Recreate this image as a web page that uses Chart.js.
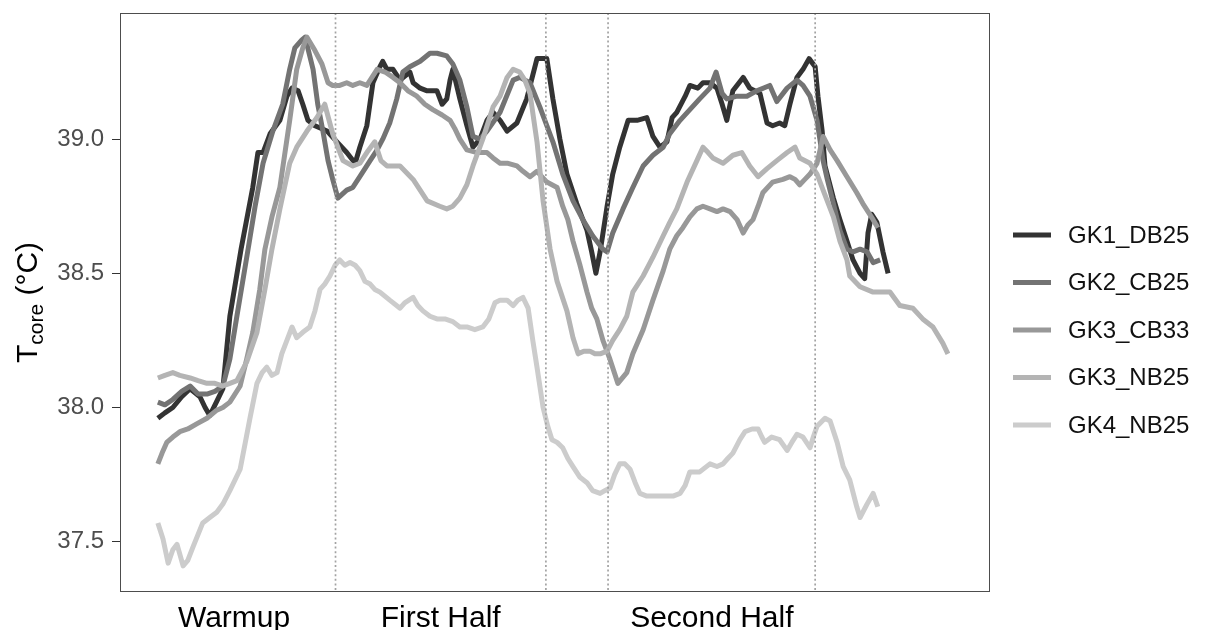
<!DOCTYPE html>
<html>
<head>
<meta charset="utf-8">
<title>Core temperature by match phase</title>
<script src="https://cdn.jsdelivr.net/npm/chart.js@4.4.1/dist/chart.umd.min.js"></script>
<style>
  html, body { margin: 0; padding: 0; background: #ffffff; }
  canvas { display: block; }
</style>
</head>
<body>
<canvas id="chart" width="1223" height="630"></canvas>
<script>
// Core temperature (°C) against match time (minutes from kick-off), one series per goalkeeper session.
const seriesNames = ['GK1_DB25', 'GK2_CB25', 'GK3_CB33', 'GK3_NB25', 'GK4_NB25'];
const seriesColors = ['#333333', '#737373', '#989898', '#b4b4b4', '#cccccc'];

// [minute, temperature]
const gk1_db25 = [
  [-38.0,37.96],[-36.5,37.98],[-34.8,38.00],[-32.9,38.04],[-31.1,38.07],[-29.0,38.04],[-27.9,38.00],[-26.9,37.97],
  [-25.2,38.03],[-24.1,38.07],[-22.6,38.34],[-20.2,38.59],[-17.7,38.82],[-16.6,38.95],[-15.5,38.95],[-14.0,39.02],
  [-11.9,39.07],[-10.4,39.16],[-9.3,39.19],[-8.0,39.18],[-7.0,39.13],[-5.9,39.07],[-4.4,39.05],[-1.8,39.03],
  [0.3,38.99],[2.4,38.95],[4.2,38.91],[5.2,38.97],[6.7,39.05],[8.0,39.21],[9.5,39.27],[10.1,39.29],
  [11.0,39.26],[12.3,39.26],[13.8,39.22],[15.9,39.25],[16.6,39.21],[18.1,39.19],[19.6,39.18],[21.7,39.18],
  [22.8,39.13],[23.8,39.15],[24.5,39.22],[25.1,39.26],[26.6,39.15],[28.1,39.05],[29.4,38.97],[30.9,39.00],
  [32.4,39.07],[33.7,39.10],[35.2,39.07],[36.7,39.03],[38.8,39.06],[40.9,39.15],[43.1,39.30],[45.2,39.30],
  [46.5,39.15],[48.0,39.00],[49.5,38.87],[51.6,38.76],[53.8,38.66],[54.8,38.58],[55.7,38.50],[56.6,38.58],
  [58.1,38.75],[59.3,38.87],[60.8,38.97],[62.6,39.07],[64.5,39.07],[66.6,39.08],[67.9,39.01],[69.4,38.97],
  [70.9,38.99],[72.0,39.08],[73.0,39.10],[74.8,39.16],[75.8,39.20],[77.5,39.19],[78.6,39.21],[80.1,39.21],
  [81.6,39.19],[82.7,39.13],[83.7,39.07],[85.0,39.18],[87.2,39.23],[88.6,39.19],[90.8,39.17],[92.3,39.06],
  [93.5,39.05],[95.0,39.06],[96.1,39.05],[97.2,39.13],[98.7,39.23],[100.0,39.26],[101.3,39.30],[102.6,39.27],
  [103.2,39.16],[104.1,39.03],[104.7,38.90],[106.5,38.78],[107.9,38.70],[109.4,38.62],[110.7,38.55],[112.2,38.50],
  [113.2,38.48],[113.9,38.65],[114.7,38.72],[115.8,38.69],[117.1,38.58],[118.2,38.50]
];

const gk2_cb25 = [
  [-38.0,38.02],[-36.5,38.01],[-34.8,38.03],[-32.9,38.06],[-31.1,38.08],[-29.4,38.05],[-27.5,38.05],[-25.8,38.06],
  [-24.1,38.08],[-22.6,38.18],[-21.1,38.34],[-18.7,38.59],[-17.2,38.75],[-15.5,38.91],[-13.4,39.03],[-11.3,39.13],
  [-9.8,39.26],[-8.7,39.34],[-7.2,39.37],[-6.5,39.38],[-4.8,39.26],[-3.8,39.13],[-2.7,39.03],[-1.6,38.92],
  [-0.6,38.85],[0.5,38.78],[2.4,38.81],[3.7,38.82],[5.2,38.86],[7.4,38.92],[8.9,38.96],[10.1,39.00],
  [11.6,39.06],[13.1,39.15],[14.4,39.25],[15.9,39.27],[18.1,39.29],[20.2,39.32],[21.7,39.32],[23.8,39.31],
  [25.1,39.28],[26.6,39.22],[28.1,39.12],[29.4,39.01],[30.9,39.00],[32.4,39.03],[35.2,39.10],[38.0,39.22],
  [39.4,39.23],[41.6,39.21],[43.7,39.12],[46.5,38.99],[48.6,38.87],[50.8,38.77],[52.9,38.70],[55.0,38.64],
  [57.2,38.59],[58.1,38.58],[59.3,38.65],[61.5,38.74],[63.6,38.82],[65.8,38.90],[67.9,38.94],[70.1,38.97],
  [71.5,39.02],[73.7,39.07],[75.8,39.11],[77.9,39.15],[80.1,39.19],[81.4,39.25],[82.7,39.17],[83.7,39.15],
  [85.9,39.16],[88.0,39.16],[90.1,39.18],[92.9,39.20],[94.4,39.14],[96.6,39.19],[98.7,39.22],[100.0,39.20],
  [101.5,39.16],[103.0,39.07],[104.3,38.92],[105.2,38.85],[106.5,38.76],[107.9,38.66],[109.4,38.59],[110.7,38.58],
  [112.2,38.59],[113.7,38.58],[115.0,38.54],[116.5,38.55]
];

const gk3_cb33 = [
  [-38.0,37.79],[-37.1,37.83],[-36.1,37.87],[-34.8,37.89],[-33.3,37.91],[-31.6,37.92],[-29.6,37.94],[-27.5,37.96],
  [-25.4,37.99],[-24.1,38.00],[-22.6,38.02],[-20.4,38.08],[-19.0,38.18],[-17.7,38.28],[-16.2,38.44],[-15.1,38.59],
  [-13.6,38.71],[-11.9,38.82],[-9.8,39.07],[-8.3,39.26],[-7.0,39.34],[-6.1,39.38],[-4.4,39.33],[-2.9,39.28],
  [-1.6,39.21],[-0.6,39.20],[0.9,39.20],[2.4,39.21],[3.7,39.20],[5.2,39.21],[6.7,39.20],[7.8,39.23],
  [8.9,39.26],[10.6,39.25],[12.3,39.23],[13.8,39.21],[15.5,39.18],[17.4,39.16],[19.1,39.13],[20.8,39.11],
  [22.8,39.09],[24.5,39.07],[25.5,39.04],[26.6,39.00],[28.1,38.96],[30.3,38.95],[32.4,38.95],[33.7,38.93],
  [35.2,38.91],[36.9,38.91],[38.8,38.90],[40.1,38.88],[41.6,38.86],[43.1,38.88],[45.2,38.84],[47.4,38.82],
  [48.6,38.75],[49.7,38.70],[50.8,38.62],[52.3,38.53],[53.8,38.43],[54.8,38.37],[55.9,38.33],[57.2,38.25],
  [58.7,38.18],[60.4,38.09],[62.3,38.13],[63.6,38.20],[65.8,38.29],[67.9,38.40],[70.1,38.51],[71.5,38.59],
  [73.0,38.64],[74.3,38.67],[75.8,38.71],[77.3,38.74],[78.6,38.75],[80.1,38.74],[81.6,38.73],[82.9,38.74],
  [84.4,38.73],[85.9,38.70],[87.2,38.65],[88.2,38.68],[89.3,38.70],[90.4,38.75],[91.4,38.80],[93.5,38.84],
  [95.7,38.85],[97.2,38.86],[98.3,38.85],[99.3,38.83],[100.4,38.85],[101.5,38.87],[103.0,38.91],[104.3,39.01],
  [105.8,38.96],[107.3,38.92],[109.4,38.86],[111.5,38.80],[112.8,38.76],[115.0,38.70],[116.0,38.67]
];

const gk3_nb25 = [
  [-38.0,38.11],[-36.5,38.12],[-34.8,38.13],[-33.3,38.12],[-31.1,38.11],[-29.4,38.10],[-27.5,38.09],[-25.8,38.09],
  [-24.1,38.08],[-22.6,38.09],[-21.1,38.10],[-19.0,38.17],[-16.8,38.28],[-15.1,38.44],[-13.6,38.59],[-11.9,38.74],
  [-9.8,38.91],[-8.3,38.97],[-6.1,39.03],[-4.0,39.08],[-2.3,39.13],[-0.6,39.02],[1.6,38.92],[3.7,38.90],
  [5.2,38.91],[6.7,38.95],[8.4,38.99],[9.7,38.92],[11.0,38.90],[13.8,38.90],[16.6,38.85],[19.6,38.77],
  [22.3,38.75],[23.8,38.74],[25.1,38.75],[26.6,38.78],[28.1,38.83],[29.4,38.90],[31.5,39.00],[33.7,39.12],
  [35.2,39.16],[36.7,39.23],[38.0,39.26],[39.4,39.25],[40.5,39.22],[41.6,39.17],[43.1,38.99],[44.4,38.77],
  [45.9,38.59],[47.4,38.47],[49.5,38.36],[50.8,38.26],[51.9,38.20],[53.1,38.21],[54.4,38.21],[55.5,38.20],
  [56.6,38.20],[58.1,38.21],[59.3,38.25],[60.8,38.29],[62.3,38.34],[63.6,38.43],[65.8,38.49],[67.9,38.56],
  [70.1,38.64],[71.5,38.69],[73.0,38.74],[75.2,38.84],[77.3,38.92],[78.6,38.97],[79.7,38.95],[80.7,38.93],
  [82.9,38.91],[85.0,38.94],[86.9,38.95],[88.6,38.90],[90.4,38.86],[92.3,38.89],[94.4,38.92],[96.6,38.95],
  [98.3,38.97],[99.3,38.93],[101.5,38.91],[103.0,38.87],[104.3,38.81],[106.5,38.71],[107.9,38.62],[109.4,38.55],
  [110.0,38.49],[112.2,38.45],[115.0,38.43],[118.6,38.43],[120.7,38.38],[123.5,38.37],[125.6,38.33],[127.8,38.30],
  [129.9,38.24],[131.0,38.20]
];

const gk4_nb25 = [
  [-38.0,37.57],[-36.9,37.51],[-35.8,37.42],[-34.8,37.47],[-33.9,37.49],[-32.6,37.41],[-31.6,37.43],[-30.5,37.48],
  [-28.4,37.57],[-26.9,37.59],[-25.4,37.61],[-24.1,37.64],[-22.6,37.69],[-20.4,37.77],[-19.4,37.86],[-18.3,37.96],
  [-16.8,38.09],[-15.7,38.13],[-14.7,38.15],[-13.6,38.12],[-12.5,38.13],[-11.5,38.20],[-10.4,38.25],[-9.3,38.30],
  [-8.3,38.26],[-7.0,38.28],[-5.5,38.30],[-4.4,38.36],[-3.3,38.44],[-2.3,38.46],[-1.2,38.49],[-0.1,38.53],
  [0.9,38.55],[2.0,38.53],[3.1,38.54],[4.2,38.53],[5.2,38.51],[6.3,38.47],[7.4,38.46],[8.4,38.44],
  [9.5,38.43],[11.6,38.40],[13.8,38.37],[14.8,38.39],[16.6,38.41],[17.6,38.38],[18.7,38.36],[20.2,38.34],
  [21.7,38.33],[23.4,38.33],[25.1,38.32],[26.6,38.30],[28.1,38.30],[29.8,38.29],[31.5,38.30],[32.8,38.33],
  [34.1,38.39],[35.2,38.40],[36.7,38.40],[38.0,38.38],[39.0,38.40],[40.1,38.41],[41.2,38.37],[42.2,38.25],
  [43.1,38.15],[44.4,38.00],[45.4,37.93],[46.3,37.88],[47.4,37.87],[48.6,37.85],[49.7,37.81],[50.8,37.78],
  [52.3,37.74],[53.8,37.72],[55.0,37.69],[56.6,37.68],[57.6,37.69],[58.7,37.70],[59.7,37.75],[60.8,37.79],
  [61.9,37.79],[63.0,37.77],[64.1,37.72],[65.1,37.68],[66.6,37.67],[67.9,37.67],[69.4,37.67],[70.9,37.67],
  [72.2,37.67],[73.7,37.68],[74.8,37.71],[75.8,37.76],[77.9,37.76],[80.1,37.79],[81.6,37.78],[82.9,37.79],
  [83.9,37.81],[85.0,37.83],[86.5,37.88],[87.6,37.91],[89.1,37.92],[90.4,37.92],[91.2,37.89],[91.8,37.87],
  [93.3,37.89],[95.0,37.88],[96.6,37.84],[97.6,37.87],[98.7,37.90],[100.0,37.89],[101.5,37.85],[102.2,37.89],
  [103.0,37.93],[104.7,37.96],[105.8,37.95],[107.3,37.87],[108.6,37.78],[110.0,37.73],[111.5,37.63],[112.2,37.59],
  [113.7,37.64],[115.0,37.68],[116.0,37.63]
];

// Phase boundaries (minutes): kick-off, end of first half, start and end of second half
const phaseBreaks = [0, 45, 58.3, 102.6];
// Phase captions and where they sit on the time axis
const phaseLabels = ['Warmup', 'First Half', 'Second Half'];
const phaseLabelPos = [-21.7, 22.5, 80.5];
// Temperature ticks
const yTickValues = [37.5, 38.0, 38.5, 39.0];

const seriesData = [gk1_db25, gk2_cb25, gk3_cb33, gk3_nb25, gk4_nb25];
const FONT = '"Liberation Sans", Arial, Helvetica, sans-serif';

const datasets = seriesData.map((rows, i) => ({
  label: seriesNames[i],
  data: rows.map(([m, t]) => ({ x: m, y: t })),
  borderColor: seriesColors[i],
  backgroundColor: seriesColors[i],
  borderWidth: 5,
  borderJoinStyle: 'round',
  borderCapStyle: 'butt',
  pointRadius: 0,
  pointHoverRadius: 0,
  tension: 0,
  fill: false,
  order: seriesNames.length - i
}));

// Dotted phase boundaries, drawn over the traces
const phaseLines = {
  id: 'phaseLines',
  afterDatasetsDraw(chart) {
    const { ctx, chartArea, scales } = chart;
    ctx.save();
    ctx.strokeStyle = '#a3a3a3';
    ctx.lineWidth = 1.7;
    ctx.setLineDash([2, 2.6]);
    phaseBreaks.forEach(b => {
      const px = scales.x.getPixelForValue(b);
      ctx.beginPath();
      ctx.moveTo(px, chartArea.top);
      ctx.lineTo(px, chartArea.bottom);
      ctx.stroke();
    });
    ctx.restore();
  }
};

// Panel frame, y-axis title with subscript, and legend
const decorations = {
  id: 'decorations',
  afterDraw(chart) {
    const { ctx, chartArea } = chart;
    ctx.save();
    ctx.strokeStyle = '#4d4d4d';
    ctx.lineWidth = 1;
    ctx.strokeRect(chartArea.left + 0.5, chartArea.top + 0.5,
                   chartArea.right - chartArea.left - 1, chartArea.bottom - chartArea.top - 1);
    ctx.restore();

    // y-axis title: T_core (°C)
    ctx.save();
    ctx.translate(37, (chartArea.top + chartArea.bottom) / 2);
    ctx.rotate(-Math.PI / 2);
    ctx.fillStyle = '#000000';
    ctx.textBaseline = 'alphabetic';
    ctx.textAlign = 'left';
    const big = '30px ' + FONT, small = '21px ' + FONT;
    ctx.font = big;
    const wT = ctx.measureText('T').width;
    const wU = ctx.measureText(' (°C)').width;
    ctx.font = small;
    const wS = ctx.measureText('core').width;
    let x = -(wT + wS + wU) / 2;
    ctx.font = big;  ctx.fillText('T', x, 0); x += wT;
    ctx.font = small; ctx.fillText('core', x, 6); x += wS;
    ctx.font = big;  ctx.fillText(' (°C)', x, 0);
    ctx.restore();

    // legend
    ctx.save();
    const rowStep = 47.5;
    const firstRow = 235;
    ctx.font = '24px ' + FONT;
    ctx.textBaseline = 'middle';
    ctx.textAlign = 'left';
    seriesNames.forEach((name, i) => {
      const y = firstRow + i * rowStep;
      ctx.strokeStyle = seriesColors[i];
      ctx.lineWidth = 5;
      ctx.beginPath();
      ctx.moveTo(1013, y);
      ctx.lineTo(1051, y);
      ctx.stroke();
      ctx.fillStyle = '#111111';
      ctx.fillText(name, 1068, y + 1);
    });
    ctx.restore();
  }
};

new Chart(document.getElementById('chart'), {
  type: 'line',
  data: { datasets },
  options: {
    responsive: false,
    animation: false,
    devicePixelRatio: 1,
    layout: { padding: { left: 0, right: 233, top: 13, bottom: 0 } },
    plugins: { legend: { display: false }, tooltip: { enabled: false } },
    scales: {
      x: {
        type: 'linear',
        min: -46.1,
        max: 140,
        afterFit(scale) {
          scale.height = 38;
          scale.paddingLeft = 0; scale.paddingRight = 0;
        },
        afterBuildTicks(scale) { scale.ticks = phaseLabelPos.map(v => ({ value: v })); },
        grid: { display: false, drawTicks: false },
        border: { display: false },
        ticks: {
          autoSkip: false,
          maxRotation: 0,
          padding: 9,
          color: '#000000',
          font: { size: 30, family: FONT },
          callback: (v, i) => phaseLabels[i]
        }
      },
      y: {
        type: 'linear',
        min: 37.3125,
        max: 39.47,
        afterFit(scale) {
          scale.width = 120;
          scale.paddingTop = 0; scale.paddingBottom = 0;
        },
        afterBuildTicks(scale) { scale.ticks = yTickValues.map(v => ({ value: v })); },
        grid: { drawOnChartArea: false, drawTicks: true, tickLength: 8, color: '#333333', lineWidth: 1 },
        border: { display: false },
        ticks: {
          padding: 8,
          color: '#4d4d4d',
          font: { size: 24, family: FONT },
          callback: v => v.toFixed(1)
        }
      }
    }
  },
  plugins: [phaseLines, decorations]
});
</script>
</body>
</html>
